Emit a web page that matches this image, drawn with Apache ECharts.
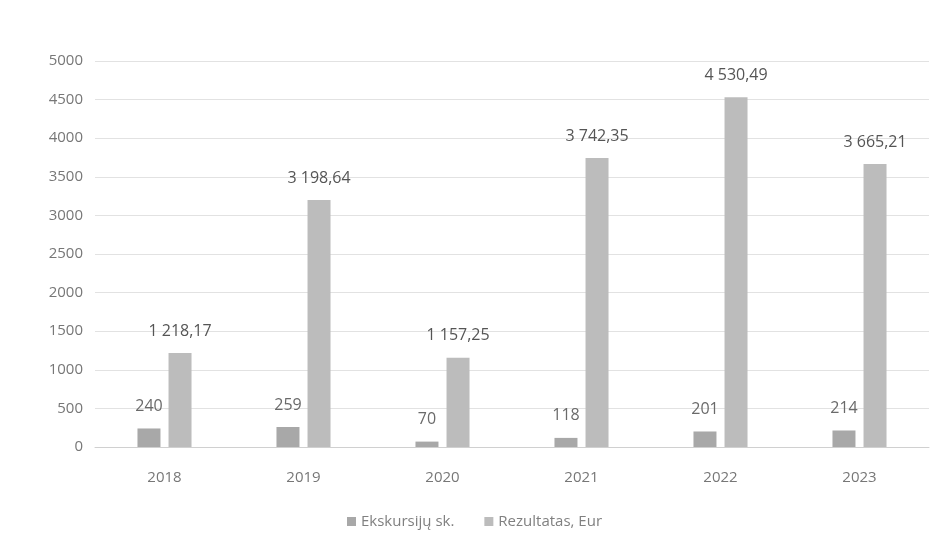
<!DOCTYPE html>
<html><head><meta charset="utf-8">
<script src="https://cdn.jsdelivr.net/npm/echarts@6/dist/echarts.min.js"></script>
<style>html,body{margin:0;padding:0;background:#fff}#c{width:949px;height:551px}</style>
</head><body><div id="c"></div>
<script>
const categories = ['2018','2019','2020','2021','2022','2023'];
const ekskursiju = [240, 259, 70, 118, 201, 214];
const rezultatas = [1218.17, 3198.64, 1157.25, 3742.35, 4530.49, 3665.21];
const yTicks = [0,500,1000,1500,2000,2500,3000,3500,4000,4500,5000];

function fmt(v){
  const parts = v.toFixed(2).split('.');
  const int = parts[0].replace(/\B(?=(\d{3})+(?!\d))/g, ' ');
  return int + ',' + parts[1];
}
const font = 'Open Sans';
const chart = echarts.init(document.getElementById('c'));
chart.setOption({
  animation:false,
  textStyle:{fontFamily:font},
  grid:{left:95, right:20, top:61, bottom:104},
  legend:{
    bottom:17, left:'center', itemWidth:9, itemHeight:9, itemGap:30,
    icon:'rect',
    textStyle:{color:'#808080', fontSize:15, fontFamily:font},
    data:['Ekskursijų sk.','Rezultatas, Eur']
  },
  xAxis:{
    type:'category', data:categories,
    axisLine:{lineStyle:{color:'#d0d0d0'}},
    axisTick:{show:false},
    axisLabel:{color:'#777', fontSize:15, margin:23}
  },
  yAxis:{
    type:'value', min:yTicks[0], max:yTicks[yTicks.length-1], interval:500,
    axisLine:{show:false}, axisTick:{show:false},
    axisLabel:{color:'#777', fontSize:15, margin:12, formatter:v=>String(v)},
    splitLine:{lineStyle:{color:'#e2e2e2'}}
  },
  series:[
    {name:'Ekskursijų sk.', type:'bar', data:ekskursiju, barWidth:23, barGap:'35%',
     itemStyle:{color:'#a8a8a8'},
     label:{show:true, position:'top', distance:14, color:'#6a6a6a', fontSize:16, fontFamily:font}},
    {name:'Rezultatas, Eur', type:'bar', data:rezultatas, barWidth:23,
     itemStyle:{color:'#bcbcbc'},
     label:{show:true, position:'top', distance:14, color:'#555', fontSize:16, fontFamily:font,
       formatter:p=>fmt(p.value)}}
  ]
});
</script></body></html>
